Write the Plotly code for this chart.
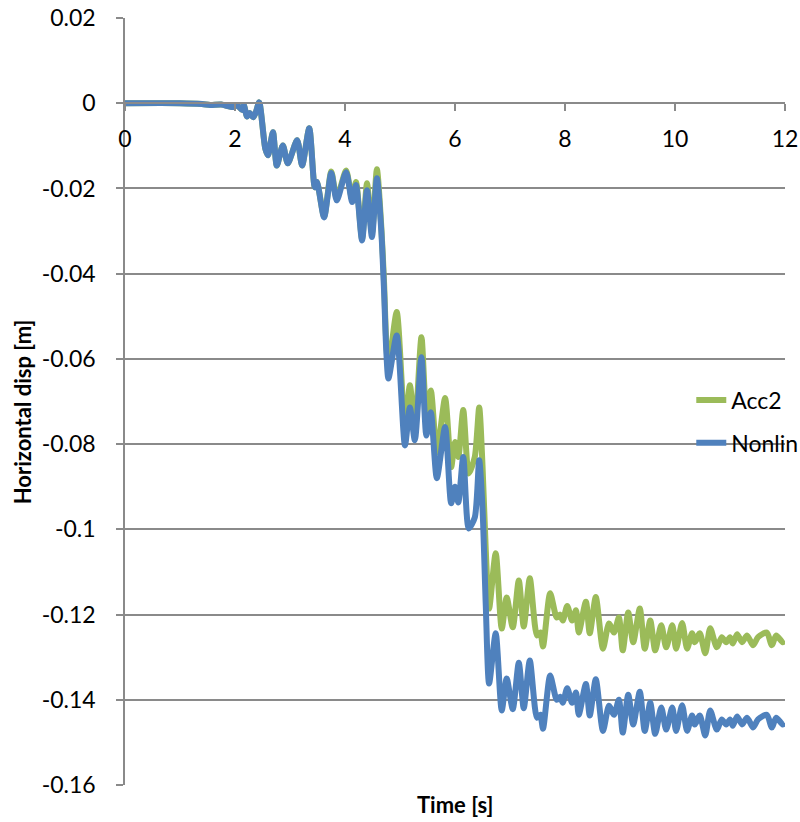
import plotly.graph_objects as go

time_s = [0.0, 1.0, 1.4, 1.55, 1.75, 1.96, 2.04, 2.13, 2.16, 2.22, 2.27, 2.33, 2.38, 2.44,
          2.55, 2.60, 2.69, 2.76, 2.87, 2.96, 3.13, 3.22, 3.35, 3.45, 3.49, 3.62, 3.75,
          3.85, 4.02, 4.13, 4.20, 4.31, 4.40, 4.49, 4.58, 4.66, 4.71, 4.75, 4.79, 4.94,
          5.09, 5.18, 5.27, 5.39, 5.48, 5.56, 5.67, 5.82, 5.93, 6.00, 6.06, 6.15, 6.25,
          6.36, 6.44, 6.50, 6.56, 6.62, 6.74, 6.85, 6.94, 7.05, 7.16, 7.25, 7.36, 7.49,
          7.55, 7.60, 7.73, 7.85, 7.91, 7.96, 8.04, 8.13, 8.20, 8.25, 8.38, 8.45, 8.56,
          8.69, 8.80, 8.89, 8.98, 9.05, 9.15, 9.24, 9.36, 9.45, 9.55, 9.64, 9.75, 9.84,
          9.95, 10.02, 10.13, 10.22, 10.31, 10.36, 10.45, 10.55, 10.64, 10.76, 10.85,
          10.93, 11.00, 11.05, 11.13, 11.22, 11.31, 11.42, 11.51, 11.67, 11.76, 11.84, 11.96, 12.0]

acc2 = [0.0, 0.0, -0.0002, -0.0004, -0.0003, -0.0009, -0.0005, -0.0016, -0.0005, -0.0031,
        -0.0023, -0.0033, -0.0021, 0.0002, -0.0106, -0.0122, -0.0068, -0.0146, -0.0099,
        -0.0141, -0.0087, -0.0146, -0.0059, -0.0197, -0.0185, -0.0266, -0.0160, -0.0222,
        -0.0158, -0.0226, -0.0185, -0.0318, -0.0188, -0.0305, -0.0155, -0.0290, -0.0420,
        -0.0560, -0.0620, -0.0490, -0.0760, -0.0662, -0.0760, -0.0549, -0.0728, -0.0674,
        -0.0820, -0.0692, -0.0854, -0.0795, -0.0830, -0.0720, -0.0869, -0.0830, -0.0714,
        -0.0850, -0.1050, -0.1186, -0.1056, -0.1233, -0.1160, -0.1230, -0.1120, -0.1228,
        -0.1115, -0.1249, -0.1242, -0.1275, -0.1150, -0.1207, -0.1200, -0.1214, -0.1180,
        -0.1214, -0.1190, -0.1242, -0.1170, -0.1244, -0.1159, -0.1280, -0.1221, -0.1242,
        -0.1207, -0.1284, -0.1195, -0.1265, -0.1186, -0.1280, -0.1214, -0.1284, -0.1225,
        -0.1277, -0.1225, -0.1280, -0.1220, -0.1280, -0.1244, -0.1265, -0.1244, -0.1291,
        -0.1232, -0.1277, -0.1253, -0.1265, -0.1253, -0.1268, -0.1246, -0.1265, -0.1249,
        -0.1272, -0.1253, -0.1242, -0.1272, -0.1249, -0.1265, -0.1262]

nonlin = [0.0, 0.0, -0.0002, -0.0004, -0.0003, -0.0009, -0.0005, -0.0016, -0.0005, -0.0031,
          -0.0023, -0.0033, -0.0021, 0.0002, -0.0106, -0.0122, -0.0068, -0.0146, -0.0099,
          -0.0141, -0.0087, -0.0146, -0.0059, -0.0197, -0.0185, -0.0268, -0.0164, -0.0228,
          -0.0162, -0.0232, -0.0192, -0.0322, -0.0204, -0.0314, -0.0176, -0.0300, -0.0440,
          -0.0580, -0.0646, -0.0545, -0.0803, -0.0714, -0.0791, -0.0596, -0.0780, -0.0725,
          -0.0880, -0.0760, -0.0939, -0.0900, -0.0937, -0.0830, -0.0998, -0.0972, -0.0838,
          -0.0950, -0.1180, -0.1362, -0.1244, -0.1425, -0.1350, -0.1422, -0.1313, -0.1420,
          -0.1308, -0.1442, -0.1435, -0.1468, -0.1343, -0.1400, -0.1393, -0.1407, -0.1373,
          -0.1407, -0.1383, -0.1435, -0.1363, -0.1437, -0.1352, -0.1473, -0.1414, -0.1435,
          -0.1400, -0.1477, -0.1388, -0.1458, -0.1381, -0.1473, -0.1407, -0.1480, -0.1418,
          -0.1470, -0.1418, -0.1473, -0.1413, -0.1473, -0.1437, -0.1458, -0.1437, -0.1484,
          -0.1425, -0.1470, -0.1446, -0.1458, -0.1446, -0.1461, -0.1439, -0.1458, -0.1442,
          -0.1465, -0.1446, -0.1435, -0.1465, -0.1442, -0.1458, -0.1455]

x_ticks = [0, 2, 4, 6, 8, 10, 12]
x_tick_labels = ["0", "2", "4", "6", "8", "10", "12"]
y_ticks = [0.02, 0, -0.02, -0.04, -0.06, -0.08, -0.1, -0.12, -0.14, -0.16]
y_tick_labels = ["0.02", "0", "-0.02", "-0.04", "-0.06", "-0.08", "-0.1", "-0.12", "-0.14", "-0.16"]

FONT = "Lato, 'Open Sans', sans-serif"
GRID = "#8a8a8a"
TICK_SIZE = 23

fig = go.Figure()
fig.add_trace(go.Scatter(x=time_s, y=acc2, mode="lines", name="Acc2",
                         line=dict(color="#9BBB59", width=6, shape="spline", smoothing=0.7),
                         legend="legend"))
fig.add_trace(go.Scatter(x=time_s, y=nonlin, mode="lines", name="Nonlin",
                         line=dict(color="#4F81BD", width=6, shape="spline", smoothing=0.7),
                         legend="legend2"))

y_min, y_max = -0.16, 0.02
fig.update_layout(
    width=800, height=822,
    margin=dict(l=125, r=15, t=18, b=37, autoexpand=False),
    paper_bgcolor="white", plot_bgcolor="white",
    font=dict(family=FONT, size=TICK_SIZE, color="black"),
    showlegend=True,
    legend=dict(x=0.858, y=0.502, xanchor="left", yanchor="middle",
                bgcolor="rgba(0,0,0,0)", font=dict(size=TICK_SIZE)),
    legend2=dict(x=0.858, y=0.446, xanchor="left", yanchor="middle",
                 bgcolor="rgba(0,0,0,0)", font=dict(size=TICK_SIZE)),
    xaxis=dict(range=[0, 12], tickvals=x_ticks, ticktext=x_tick_labels, automargin=False,
               showgrid=False, zeroline=False, showline=True, linecolor=GRID, linewidth=1.5,
               ticks="outside", ticklen=7, tickcolor=GRID, tickwidth=1.5,
               ticklabelstandoff=8, ticklabeloverflow="allow",
               anchor="free", position=(0 - y_min) / (y_max - y_min),
               tickfont=dict(size=TICK_SIZE)),
    yaxis=dict(range=[y_min, y_max], tickvals=y_ticks, ticktext=y_tick_labels,
               domain=[0, 1], automargin=False,
               showgrid=True, gridcolor=GRID, gridwidth=1.5, zeroline=False,
               showline=True, linecolor=GRID, linewidth=1.5,
               ticks="outside", ticklen=7, tickcolor=GRID, tickwidth=1.5,
               ticklabelstandoff=16, ticklabeloverflow="allow",
               tickfont=dict(size=TICK_SIZE)),
    annotations=[
        dict(text="<b>Time [s]</b>", xref="paper", yref="paper", x=0.5, y=-0.026,
             xanchor="center", yanchor="middle", showarrow=False, font=dict(size=22)),
        dict(text="<b>Horizontal disp [m]</b>", xref="paper", yref="paper", x=-0.156, y=0.486,
             xanchor="center", yanchor="middle", textangle=-90, showarrow=False,
             font=dict(size=22)),
    ],
)

fig.write_html("out.html", config={"displayModeBar": False},
               post_script="document.body.style.margin='0';")
